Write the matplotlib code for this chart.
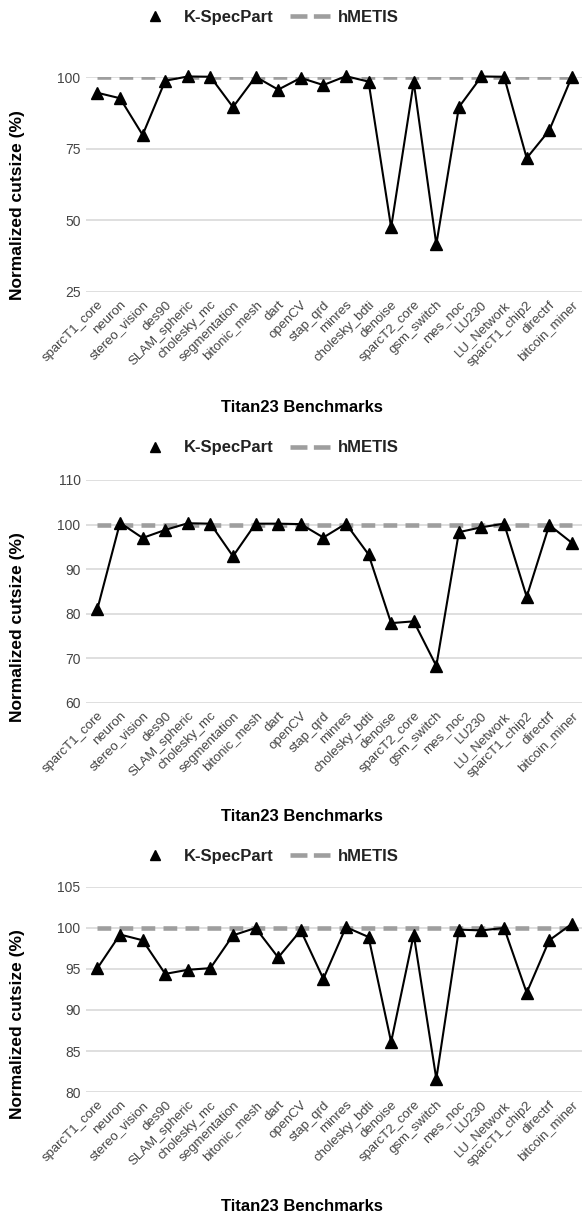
import matplotlib.pyplot as plt
from matplotlib.transforms import ScaledTranslation

plt.rcParams['font.family'] = ['Liberation Sans', 'DejaVu Sans']

# 数据
benchmarks = ['sparcT1_core', 'neuron', 'stereo_vision', 'des90', 'SLAM_spheric',
              'cholesky_mc', 'segmentation', 'bitonic_mesh', 'dart', 'openCV',
              'stap_qrd', 'minres', 'cholesky_bdti', 'denoise', 'sparcT2_core',
              'gsm_switch', 'mes_noc', 'LU230', 'LU_Network', 'sparcT1_chip2',
              'directrf', 'bitcoin_miner']

kspec_1 = [94.5, 92.6, 79.8, 98.7, 100.2, 100.1, 89.5, 100.1, 95.6, 99.7, 97.2,
           100.3, 98.4, 47.5, 98.2, 41.6, 89.5, 100.2, 100.1, 71.7, 81.4, 100.1]
kspec_2 = [81.1, 100.4, 97.0, 98.8, 100.3, 100.2, 92.9, 100.2, 100.2, 100.1, 97.1,
           100.2, 93.3, 77.9, 78.3, 68.3, 98.3, 99.4, 100.2, 83.8, 99.9, 95.9]
kspec_3 = [95.1, 99.2, 98.5, 94.4, 94.9, 95.1, 99.1, 100.0, 96.4, 99.7, 93.8,
           100.1, 98.9, 86.1, 99.2, 81.6, 99.8, 99.7, 100.0, 92.1, 98.5, 100.5]
hmetis = [100] * len(benchmarks)

ylims = [(25, 100), (60, 110), (80, 105)]
yticks = [[25, 50, 75, 100], [60, 70, 80, 90, 100, 110], [80, 85, 90, 95, 100, 105]]

# 布局 (figure fraction)
axes_rects = [[0.148, 0.7601, 0.854, 0.1766],
              [0.148, 0.4224, 0.854, 0.1832],
              [0.148, 0.1027, 0.854, 0.1685]]
legend_y = [0.986, 0.632, 0.296]
xlabel_y = [0.665, 0.329, 0.009]
ylabel_y = [0.405, 0.34, 0.33]

fig = plt.figure(figsize=(5.82, 12.17), dpi=100)

for i, series in enumerate([kspec_1, kspec_2, kspec_3]):
    ax = fig.add_axes(axes_rects[i])
    x = range(len(benchmarks))
    ax.plot(x, hmetis, color='#9e9e9e', lw=3.3, dashes=(3.0, 1.8),
            dash_capstyle='butt', label='hMETIS', zorder=2)
    ax.plot(x, series, color='black', lw=1.5, marker='^', markersize=9,
            label='K-SpecPart', clip_on=False, zorder=3)

    ax.set_xlim(-0.5, len(benchmarks) - 0.5)
    ax.set_ylim(*ylims[i])
    ax.set_yticks(yticks[i])
    ax.set_xticks(list(x))
    ax.set_xticklabels(benchmarks, rotation=45, ha='right', rotation_mode='anchor',
                       fontsize=9.5, color='#444444')
    shift = ScaledTranslation(4 / 100, 0, fig.dpi_scale_trans)
    for lab in ax.get_xticklabels():
        lab.set_transform(lab.get_transform() + shift)
    ax.tick_params(axis='y', labelsize=10, labelcolor='#444444', length=0, pad=4)
    ax.tick_params(axis='x', length=0, pad=5)
    ax.grid(axis='y', color='#d9d9d9', lw=1.2)
    ax.set_axisbelow(True)
    for s in ax.spines.values():
        s.set_visible(False)

    ax.set_ylabel('Normalized cutsize (%)', fontsize=12.5, fontweight='bold', va='center')
    ax.yaxis.set_label_coords(-0.138, ylabel_y[i])

    fig.text(0.519, xlabel_y[i], 'Titan23 Benchmarks', ha='center', va='center',
             fontsize=12, fontweight='bold')

    h, l = ax.get_legend_handles_labels()
    leg = fig.legend(h[::-1], l[::-1], loc='center', bbox_to_anchor=(0.459, legend_y[i]),
                     ncol=2, frameon=False, fontsize=12, handlelength=2.4,
                     columnspacing=1.0, handletextpad=0.5)
    for t in leg.get_texts():
        t.set_fontweight('bold')
        t.set_color('#222222')
    # K-SpecPart 图例只显示三角
    leg.legend_handles[0].set_linestyle('None')
    leg.legend_handles[0].set_markersize(7)
    leg.legend_handles[1].set_dashes((3.7, 1.4))

fig.savefig('out.png', dpi=100)
